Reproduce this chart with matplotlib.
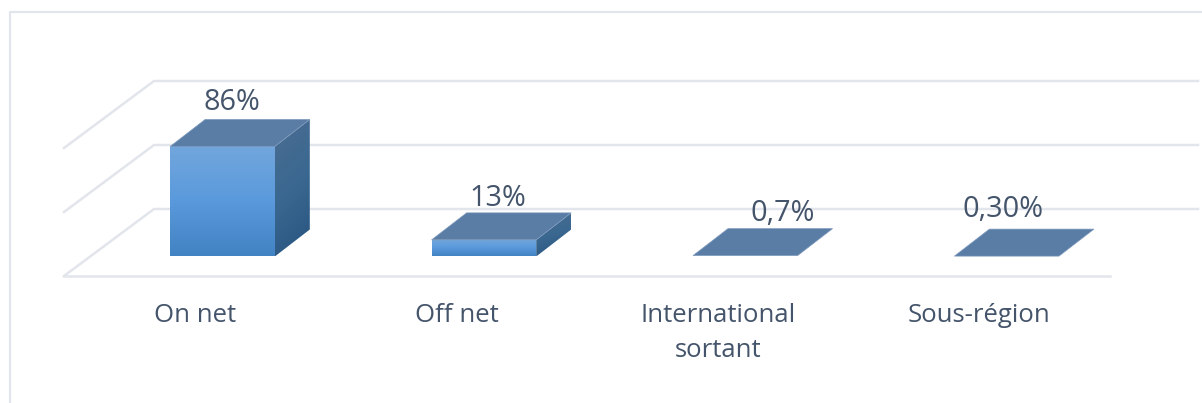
import numpy as np
import matplotlib
matplotlib.use('Agg')
import matplotlib.pyplot as plt
from matplotlib.colors import LinearSegmentedColormap
from matplotlib.patches import Polygon

plt.rcParams['font.family'] = ['Open Sans', 'DejaVu Sans']

categories = ['On net', 'Off net', 'International\nsortant', 'Sous-région']
values = [86, 13, 0.7, 0.3]
value_labels = ['86%', '13%', '0,7%', '0,30%']
grid_values = [0, 50, 100]

W, H = 1202, 403
# pixel <-> data scale
step = 261.4      # px per category
unit = 1.28       # px per percent
x0_px = 222.5     # centre of first bar
y0_px = 256.5     # base of the bars
half = 52.3 / step
dx, dy = 35 / step, 27 / unit

label_color = '#44546A'
grid_color = '#E2E5EC'

fig = plt.figure(figsize=(W / 100, H / 100), dpi=100)
ax = fig.add_axes([0, 0, 1, 1])
xlim = (-x0_px / step, (W - x0_px) / step)
ylim = ((y0_px - H) / unit, y0_px / unit)


def px(x, y):
    # figure pixels to data coordinates, only for the chart furniture
    return (x - x0_px) / step, (y0_px - y) / unit


# outer frame (left and top only are visible)
ax.plot(*zip(px(10, 403), px(10, 12), px(1202, 12)), color=grid_color, lw=1.6, zorder=1)

# floor
ax.plot(*zip(px(1110, 276), px(64, 276)), color=grid_color, lw=1.8, zorder=1)

# walls and gridlines
for g in grid_values:
    back = px(154, 209)[1] + g
    wall_front = back - 67 / unit
    ax.plot([px(64, 0)[0], px(154, 0)[0], px(1198, 0)[0]], [wall_front, back, back],
            color=grid_color, lw=1.8, zorder=1, solid_joinstyle='miter')

front_cmap = LinearSegmentedColormap.from_list('front', ['#72A6DC', '#5A9ADC', '#4283C4'])
side_cmap = LinearSegmentedColormap.from_list('side', ['#4C6D92', '#3A6890', '#275480'])
top_color = '#5A7DA6'


def grad_poly(points, cmap, zorder):
    xs, ys = zip(*points)
    ny, nx = 64, 32
    xx = np.linspace(0, 1, nx)
    yy = np.linspace(0, 1, ny)
    grid = yy[:, None] * 0.8 + xx[None, :] * 0.2 if cmap is side_cmap else np.tile(yy[:, None], (1, nx))
    im = ax.imshow(grid, cmap=cmap, extent=(min(xs), max(xs), min(ys), max(ys)),
                   aspect='auto', origin='upper', zorder=zorder, vmin=0, vmax=1,
                   interpolation='bilinear')
    clip = Polygon(points, closed=True, transform=ax.transData, fc='none', ec='none')
    ax.add_patch(clip)
    im.set_clip_path(clip)


label_off_x = [9.5, 14, 37, -4]
label_off_y = [36, 34, 35, 39]

for i, v in enumerate(values):
    l, r = i - half, i + half
    if v >= 5:
        grad_poly([(l, 0), (r, 0), (r, v), (l, v)], front_cmap, 3)
        grad_poly([(r, 0), (r + dx, dy), (r + dx, v + dy), (r, v)], side_cmap, 3)
    ax.add_patch(Polygon([(l, v), (r, v), (r + dx, v + dy), (l + dx, v + dy)], closed=True,
                         fc=top_color, ec='#7F9BBE', lw=0.5, zorder=4))
    ax.annotate(value_labels[i], (i, v), xytext=(label_off_x[i], label_off_y[i]),
                textcoords='offset pixels', ha='center', va='baseline',
                fontsize=20.8, color=label_color, zorder=5)
    ax.annotate(categories[i], (i, px(0, 303)[1]), xytext=(-27.5, 0), textcoords='offset pixels',
                ha='center', va='top', fontsize=18.5, color=label_color, linespacing=1.55,
                annotation_clip=False)

ax.set_xlim(*xlim)
ax.set_ylim(*ylim)
ax.axis('off')
fig.savefig('out.png', dpi=100, facecolor='white')
